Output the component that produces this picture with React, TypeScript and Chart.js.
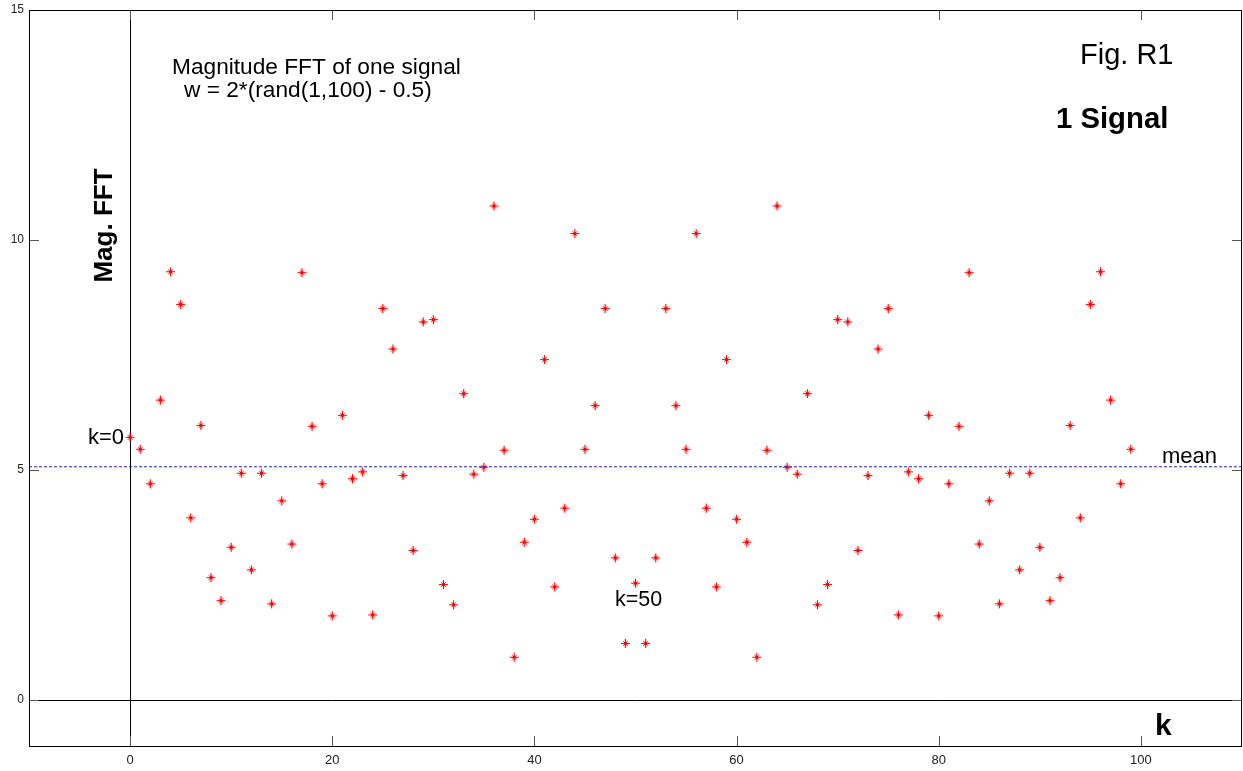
import React, { useEffect, useRef } from "react";
import { Chart, registerables } from "chart.js";

Chart.register(...registerables);

// FFT bin index k = 0..99 and magnitude |X(k)|
const MAG: number[] = [
  5.71, 5.45, 4.7, 6.52, 9.31, 8.6, 3.96, 5.97, 2.66, 2.16,
  3.32, 4.93, 2.83, 4.93, 2.09, 4.33, 3.39, 9.29, 5.95, 4.7,
  1.83, 6.19, 4.81, 4.96, 1.85, 8.51, 7.63, 4.88, 3.25, 8.22,
  8.27, 2.51, 2.07, 6.66, 4.91, 5.06, 10.74, 5.43, 0.93, 3.43,
  3.93, 7.4, 2.46, 4.17, 10.14, 5.45, 6.4, 8.51, 3.09, 1.23,
  2.54, 1.23, 3.09, 8.51, 6.4, 5.45, 10.14, 4.17, 2.46, 7.4,
  3.93, 3.43, 0.93, 5.43, 10.74, 5.06, 4.91, 6.66, 2.07, 2.51,
  8.27, 8.22, 3.25, 4.88, 7.63, 8.51, 1.85, 4.96, 4.81, 6.19,
  1.83, 4.7, 5.95, 9.29, 3.39, 4.33, 2.09, 4.93, 2.83, 4.93,
  3.32, 2.16, 2.66, 5.97, 3.96, 8.6, 9.31, 6.52, 4.7, 5.45,
];
const MEAN = 5.07;
const X_MIN = -10;
const X_MAX = 110;
const Y_MIN = -1;
const Y_MAX = 15;
const X_TICKS = [0, 20, 40, 60, 80, 100];
const Y_TICKS = [0, 5, 10, 15];
const X_TICK_LABELS = ["0", "20", "40", "60", "80", "100"];
const Y_TICK_LABELS = ["0", "5", "10", "15"];

const FONT = '"Liberation Sans", Arial, sans-serif';

function makeStarMarker(): HTMLCanvasElement {
  const c = document.createElement("canvas");
  c.width = 11;
  c.height = 11;
  const g = c.getContext("2d")!;
  g.strokeStyle = "#ff0000";
  g.lineWidth = 1.2;
  g.beginPath();
  g.moveTo(5.5, 1);
  g.lineTo(5.5, 10);
  g.moveTo(1, 5.5);
  g.lineTo(10, 5.5);
  g.stroke();
  g.lineWidth = 1;
  g.strokeStyle = "rgba(255,0,0,0.8)";
  g.beginPath();
  g.moveTo(3, 3);
  g.lineTo(8, 8);
  g.moveTo(8, 3);
  g.lineTo(3, 8);
  g.stroke();
  g.fillStyle = "#ff0000";
  g.fillRect(4, 4, 3, 3);
  return c;
}

const framePlugin = {
  id: "matlabFrame",
  beforeDatasetsDraw(chart: any) {
    const { ctx, chartArea: a, scales } = chart;
    const xs = scales.x;
    const ys = scales.y;
    ctx.save();
    ctx.strokeStyle = "#000";
    ctx.lineWidth = 1;
    const x0 = Math.round(xs.getPixelForValue(0)) + 0.5;
    const y0 = Math.round(ys.getPixelForValue(0)) + 0.5;
    ctx.beginPath();
    ctx.moveTo(x0, a.top);
    ctx.lineTo(x0, a.bottom);
    ctx.moveTo(a.left, y0);
    ctx.lineTo(a.right, y0);
    ctx.stroke();
    ctx.restore();
  },
  afterDatasetsDraw(chart: any) {
    const { ctx, chartArea: a, scales } = chart;
    const xs = scales.x;
    const ys = scales.y;
    ctx.save();
    ctx.strokeStyle = "#555";
    ctx.lineWidth = 1;
    const TL = 10;
    ctx.beginPath();
    X_TICKS.forEach((t) => {
      const px = Math.round(xs.getPixelForValue(t)) + 0.5;
      ctx.moveTo(px, a.bottom);
      ctx.lineTo(px, a.bottom - TL);
      ctx.moveTo(px, a.top);
      ctx.lineTo(px, a.top + TL);
    });
    Y_TICKS.forEach((t) => {
      const py = Math.round(ys.getPixelForValue(t)) + 0.5;
      ctx.moveTo(a.left, py);
      ctx.lineTo(a.left + TL, py);
      ctx.moveTo(a.right, py);
      ctx.lineTo(a.right - TL, py);
    });
    ctx.stroke();
    ctx.strokeStyle = "#000";
    ctx.strokeRect(Math.round(a.left) + 0.5, Math.round(a.top) + 0.5, Math.round(a.right - a.left) - 1, Math.round(a.bottom - a.top));
    ctx.fillStyle = "#222";
    ctx.font = `13px ${FONT}`;
    ctx.textAlign = "center";
    ctx.textBaseline = "middle";
    X_TICKS.forEach((t, i) => {
      ctx.fillText(X_TICK_LABELS[i], xs.getPixelForValue(t), a.bottom + 14);
    });
    ctx.font = `12px ${FONT}`;
    ctx.textAlign = "right";
    Y_TICKS.forEach((t, i) => {
      ctx.fillText(Y_TICK_LABELS[i], a.left - 5, ys.getPixelForValue(t));
    });

    ctx.fillStyle = "#000";
    ctx.textAlign = "left";
    ctx.textBaseline = "alphabetic";
    ctx.font = `22.7px ${FONT}`;
    ctx.fillText("Magnitude FFT of one signal", 172, 74);
    ctx.fillText("w = 2*(rand(1,100) - 0.5)", 184, 97);
    ctx.font = `29px ${FONT}`;
    ctx.fillText("Fig. R1", 1080, 64);
    ctx.font = `bold 29.3px ${FONT}`;
    ctx.fillText("1 Signal", 1056, 128);

    ctx.font = `22px ${FONT}`;
    ctx.fillText("k=0", 88, 444);
    ctx.fillText("mean", 1162, 463);
    ctx.font = `21.5px ${FONT}`;
    ctx.fillText("k=50", 615, 606);
    ctx.font = `bold 30px ${FONT}`;
    ctx.fillText("k", 1155, 735);

    ctx.translate(112, 225.5);
    ctx.rotate(-Math.PI / 2);
    ctx.textAlign = "center";
    ctx.font = `bold 26px ${FONT}`;
    ctx.fillText("Mag. FFT", 0, 0);
    ctx.restore();
  },
};

export default function App() {
  const ref = useRef<HTMLCanvasElement | null>(null);
  useEffect(() => {
    document.body.style.margin = "0";
    if (!ref.current) return;
    const points = MAG.map((v, k) => ({ x: k, y: v }));
    const marker = makeStarMarker();
    const chart = new Chart(ref.current, {
      type: "scatter",
      data: {
        datasets: [
          {
            type: "line",
            data: [
              { x: X_MIN, y: MEAN },
              { x: X_MAX, y: MEAN },
            ],
            borderColor: "#1f1fe0",
            borderWidth: 1,
            borderDash: [3, 2],
            pointRadius: 0,
            fill: false,
          } as any,
          {
            data: points,
            pointStyle: marker,
            pointRadius: 5,
            borderColor: "#ff0000",
            backgroundColor: "#ff0000",
          } as any,
        ],
      },
      options: {
        responsive: false,
        animation: false,
        devicePixelRatio: 1,
        layout: { autoPadding: false, padding: { left: 29, top: 10, right: 1, bottom: 25 } },
        plugins: { legend: { display: false }, tooltip: { enabled: false } },
        scales: {
          x: { type: "linear", min: X_MIN, max: X_MAX, display: false },
          y: { type: "linear", min: Y_MIN, max: Y_MAX, display: false },
        },
      } as any,
      plugins: [framePlugin],
    });
    return () => chart.destroy();
  }, []);
  return (
    <div style={{ width: 1243, height: 771, background: "#fff" }}>
      <canvas ref={ref} width={1243} height={771} style={{ display: "block" }} />
    </div>
  );
}
